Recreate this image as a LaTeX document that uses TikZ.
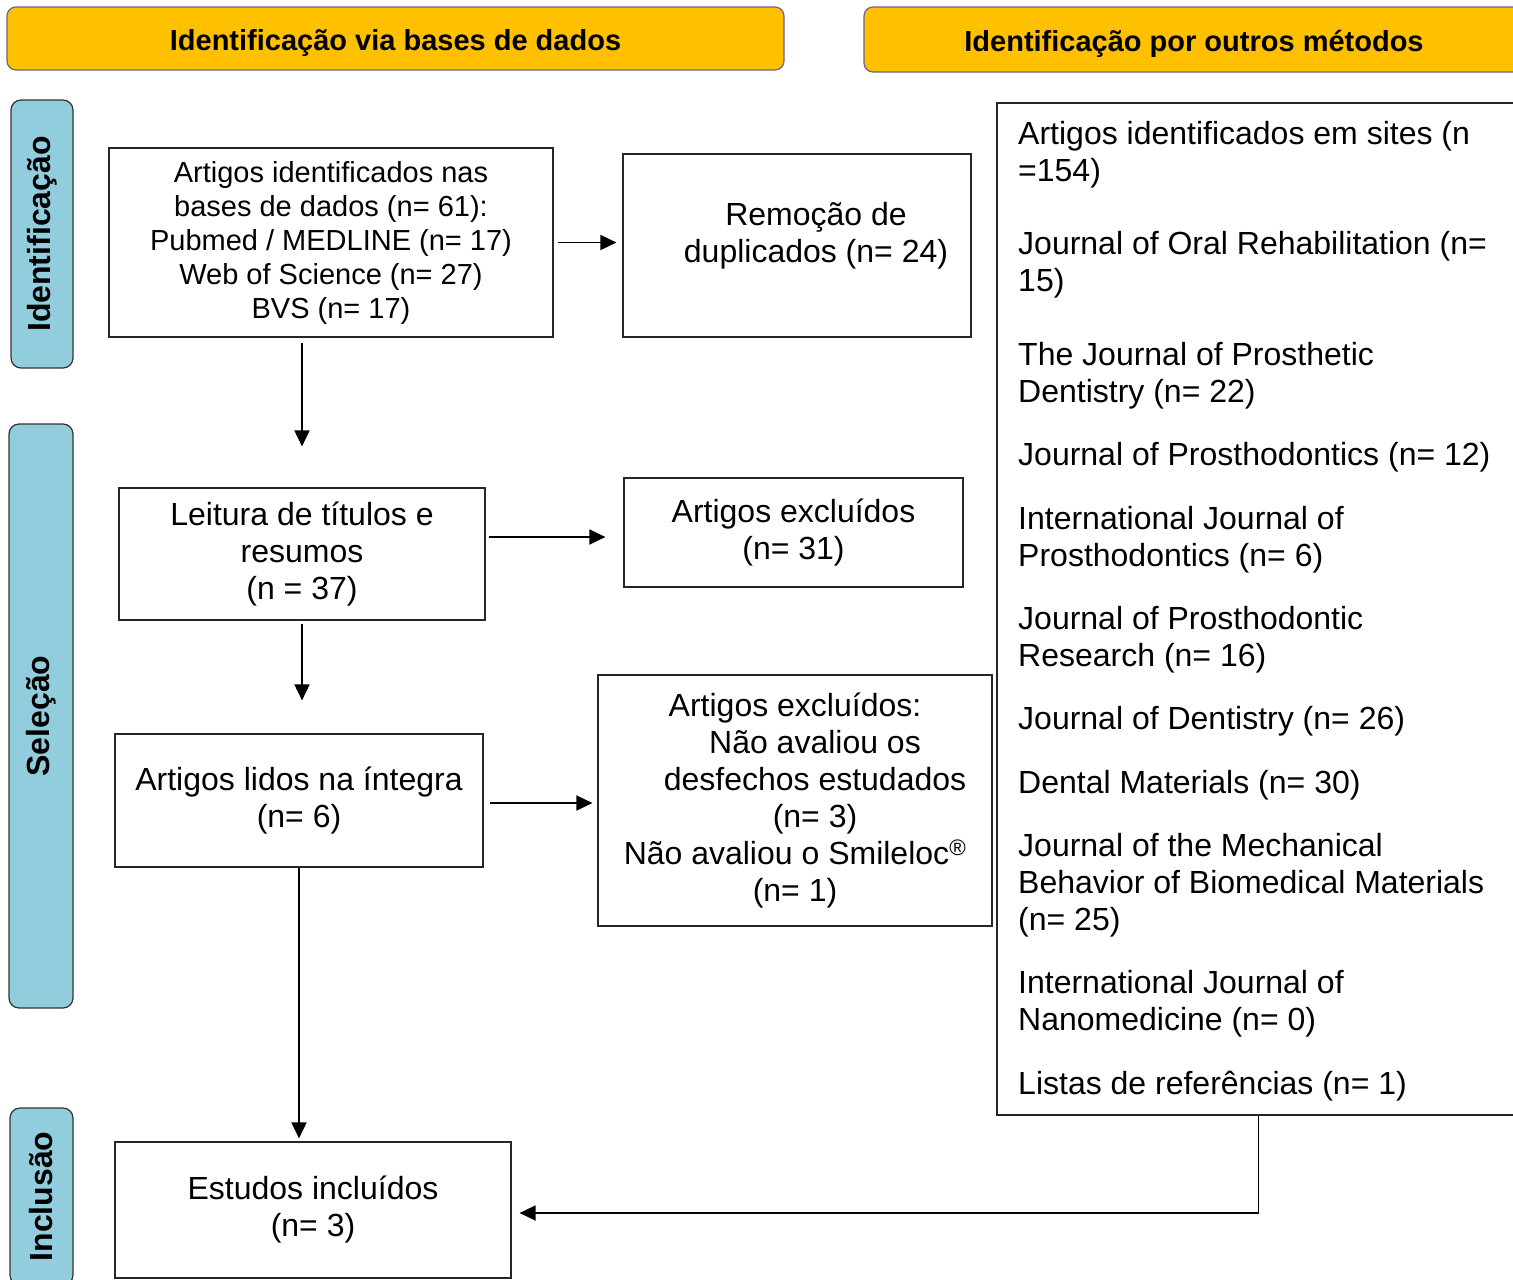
\documentclass[tikz,border=0pt]{standalone}
\usepackage{fontspec}
\setmainfont{Liberation Sans}
\usetikzlibrary{arrows.meta,positioning}

\definecolor{hdrfill}{RGB}{255,192,0}
\definecolor{hdrline}{RGB}{112,96,140}
\definecolor{stagefill}{RGB}{146,205,222}

\tikzset{
  box/.style={draw=black!85, line width=1.2pt, align=center, inner sep=0pt,
    font=\fontsize{32}{37}\selectfont},
  header/.style={draw=hdrline, fill=hdrfill, line width=1.2pt, rounded corners=9pt,
    text height=24pt, text depth=1pt, font=\bfseries\fontsize{29}{34}\selectfont},
  stage/.style={draw=black!80, fill=stagefill, line width=1.2pt, rounded corners=10pt,
    rotate=90, font=\bfseries\fontsize{32}{37}\selectfont},
  arr/.style={-{Triangle[length=16pt,width=15pt]}, line width=1.8pt},
  src/.style={anchor=base west, align=left, inner sep=0pt,
    font=\fontsize{32}{37}\selectfont},
}

\begin{document}
\begin{tikzpicture}[x=1pt,y=-1pt]
\useasboundingbox (0,0) rectangle (1513,1280);
\clip (0,0) rectangle (1513,1280);

% headers
\node[header, minimum width=777pt, minimum height=63pt] (hdb) at (395.5,38.5) {Identificação via bases de dados};
\node[header, minimum width=660pt, minimum height=65pt] (hout) at (1194,39.5) {Identificação por outros métodos};

% stages on the left
\node[stage, minimum width=268pt, minimum height=62pt] (sid) at (42,234) {Identificação};
\node[stage, minimum width=584pt, minimum height=64pt] (ssel) at (41,716) {Seleção};
\node[stage, minimum width=177pt, minimum height=63pt] (sinc) at (41.5,1196.5) {Inclusão};

% databases column
\node[box, font=\fontsize{29}{34}\selectfont, minimum width=444pt, minimum height=189pt] (b1) at (331,242.5)
  {Artigos identificados nas\\bases de dados (n= 61):\\Pubmed / MEDLINE (n= 17)\\Web of Science (n= 27)\\BVS (n= 17)};
\node[box, minimum width=348pt, minimum height=183pt] (b2) at (797,245.5)
  {\hspace*{38pt}Remoção de\\\hspace*{38pt}duplicados (n= 24)\rule[-26pt]{0pt}{26pt}};
\node[box, minimum width=366pt, minimum height=132pt] (b3) at (302,554)
  {Leitura de títulos e\\resumos\\(n = 37)};
\node[box, minimum width=339pt, minimum height=109pt] (b4) at (793.5,532.5)
  {Artigos excluídos\\(n= 31)};
\node[box, minimum width=368pt, minimum height=133pt] (b5) at (299,800.5)
  {Artigos lidos na íntegra\\(n= 6)};
\node[box, minimum width=394pt, minimum height=251pt] (b6) at (795,800.5)
  {Artigos excluídos:\\\hspace*{40pt}Não avaliou os\\\hspace*{40pt}desfechos estudados\\\hspace*{40pt}(n= 3)\\Não avaliou o Smileloc\textsuperscript{®}\\(n= 1)};
\node[box, minimum width=396pt, minimum height=136pt] (b7) at (313,1210)
  {Estudos incluídos\\(n= 3)};

% other methods (y = baseline of the last line)
\node[box, minimum width=533pt, minimum height=1012pt] (b8) at (1263.5,609) {};
\foreach \yy/\txt [count=\i] in {
  181/{Artigos identificados em sites (n\\=154)},
  291/{Journal of Oral Rehabilitation (n=\\15)},
  402/{The Journal of Prosthetic\\Dentistry (n= 22)},
  465/{Journal of Prosthodontics (n= 12)},
  566/{International Journal of\\Prosthodontics (n= 6)},
  666/{Journal of Prosthodontic\\Research (n= 16)},
  729/{Journal of Dentistry (n= 26)},
  793/{Dental Materials (n= 30)},
  930/{Journal of the Mechanical\\Behavior of Biomedical Materials\\(n= 25)},
  1030/{International Journal of\\Nanomedicine (n= 0)},
  1094/{Listas de referências (n= 1)}}
  \node[src] (src\i) at (1018,\yy) {\txt};

% connectors
\coordinate (b3out) at ([yshift=17pt]b3.east);
\coordinate (b5out) at ([yshift=-2.5pt]b5.east);
\coordinate (b7in) at ([yshift=-3pt]b7.east);
\draw[arr, shorten <=4pt, shorten >=6pt] (b1.east) -- (b1.east -| b2.west);
\draw[arr, shorten <=5pt, shorten >=41pt] (b3.north |- b1.south) -- (b3.north);
\draw[arr, shorten <=3pt, shorten >=18pt] (b3out) -- (b3out -| b4.west);
\draw[arr, shorten <=3pt, shorten >=33pt] (b3.south) -- (b3.south |- b5.north);
\draw[arr, shorten <=6pt, shorten >=5pt] (b5out) -- (b5out -| b6.west);
\draw[arr, shorten >=3pt] (b5.south) -- (b5.south |- b7.north);
\draw[arr, shorten >=8pt] ([xshift=-5pt]b8.south) |- (b7in);
\end{tikzpicture}
\end{document}
